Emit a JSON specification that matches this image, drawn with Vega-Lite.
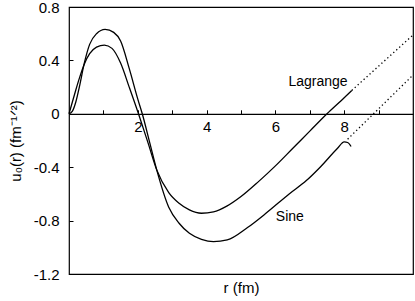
{
  "$schema": "https://vega.github.io/schema/vega-lite/v6.json",
  "width": 344,
  "height": 267,
  "autosize": "none",
  "padding": {"left": 69, "top": 7, "right": 2, "bottom": 27},
  "background": "white",
  "config": {
    "view": {"stroke": "black", "strokeWidth": 1.2},
    "font": "Liberation Sans",
    "axis": {"grid": false, "labelColor": "black", "titleColor": "black", "tickColor": "black", "domainColor": "black", "labelFont": "Liberation Sans", "titleFont": "Liberation Sans", "titleFontWeight": "normal"}
  },
  "datasets": {
    "curves": [
      {"curve": "Lagrange", "part": "solid", "r": 0, "u": 0},
      {"curve": "Lagrange", "part": "solid", "r": 0.1, "u": 0.09},
      {"curve": "Lagrange", "part": "solid", "r": 0.2, "u": 0.18},
      {"curve": "Lagrange", "part": "solid", "r": 0.3, "u": 0.265},
      {"curve": "Lagrange", "part": "solid", "r": 0.45, "u": 0.375},
      {"curve": "Lagrange", "part": "solid", "r": 0.6, "u": 0.45},
      {"curve": "Lagrange", "part": "solid", "r": 0.8, "u": 0.5},
      {"curve": "Lagrange", "part": "solid", "r": 1.03, "u": 0.515},
      {"curve": "Lagrange", "part": "solid", "r": 1.25, "u": 0.49},
      {"curve": "Lagrange", "part": "solid", "r": 1.5, "u": 0.38},
      {"curve": "Lagrange", "part": "solid", "r": 1.75, "u": 0.2},
      {"curve": "Lagrange", "part": "solid", "r": 2.02, "u": 0},
      {"curve": "Lagrange", "part": "solid", "r": 2.3, "u": -0.22},
      {"curve": "Lagrange", "part": "solid", "r": 2.55, "u": -0.42},
      {"curve": "Lagrange", "part": "solid", "r": 2.9, "u": -0.59},
      {"curve": "Lagrange", "part": "solid", "r": 3.2, "u": -0.67},
      {"curve": "Lagrange", "part": "solid", "r": 3.5, "u": -0.72},
      {"curve": "Lagrange", "part": "solid", "r": 3.85, "u": -0.745},
      {"curve": "Lagrange", "part": "solid", "r": 4.2, "u": -0.735},
      {"curve": "Lagrange", "part": "solid", "r": 4.6, "u": -0.69},
      {"curve": "Lagrange", "part": "solid", "r": 5.0, "u": -0.62},
      {"curve": "Lagrange", "part": "solid", "r": 5.5, "u": -0.51},
      {"curve": "Lagrange", "part": "solid", "r": 6.0, "u": -0.39},
      {"curve": "Lagrange", "part": "solid", "r": 6.5, "u": -0.26},
      {"curve": "Lagrange", "part": "solid", "r": 7.0, "u": -0.13},
      {"curve": "Lagrange", "part": "solid", "r": 7.5, "u": 0},
      {"curve": "Lagrange", "part": "solid", "r": 8.0, "u": 0.12},
      {"curve": "Lagrange", "part": "solid", "r": 8.22, "u": 0.175},
      {"curve": "Sine", "part": "solid", "r": 0, "u": 0},
      {"curve": "Sine", "part": "solid", "r": 0.1, "u": 0.02},
      {"curve": "Sine", "part": "solid", "r": 0.2, "u": 0.09},
      {"curve": "Sine", "part": "solid", "r": 0.3, "u": 0.2},
      {"curve": "Sine", "part": "solid", "r": 0.45, "u": 0.385},
      {"curve": "Sine", "part": "solid", "r": 0.6, "u": 0.52},
      {"curve": "Sine", "part": "solid", "r": 0.8, "u": 0.6},
      {"curve": "Sine", "part": "solid", "r": 1.05, "u": 0.633},
      {"curve": "Sine", "part": "solid", "r": 1.3, "u": 0.61},
      {"curve": "Sine", "part": "solid", "r": 1.5, "u": 0.545},
      {"curve": "Sine", "part": "solid", "r": 1.75, "u": 0.34},
      {"curve": "Sine", "part": "solid", "r": 2.0, "u": 0.11},
      {"curve": "Sine", "part": "solid", "r": 2.13, "u": 0},
      {"curve": "Sine", "part": "solid", "r": 2.35, "u": -0.22},
      {"curve": "Sine", "part": "solid", "r": 2.55, "u": -0.42},
      {"curve": "Sine", "part": "solid", "r": 2.9, "u": -0.7},
      {"curve": "Sine", "part": "solid", "r": 3.2, "u": -0.82},
      {"curve": "Sine", "part": "solid", "r": 3.5, "u": -0.895},
      {"curve": "Sine", "part": "solid", "r": 3.85, "u": -0.94},
      {"curve": "Sine", "part": "solid", "r": 4.2, "u": -0.958},
      {"curve": "Sine", "part": "solid", "r": 4.6, "u": -0.945},
      {"curve": "Sine", "part": "solid", "r": 5.2, "u": -0.85},
      {"curve": "Sine", "part": "solid", "r": 5.75, "u": -0.74},
      {"curve": "Sine", "part": "solid", "r": 6.4, "u": -0.6},
      {"curve": "Sine", "part": "solid", "r": 6.9, "u": -0.5},
      {"curve": "Sine", "part": "solid", "r": 7.3, "u": -0.4},
      {"curve": "Sine", "part": "solid", "r": 7.8, "u": -0.26},
      {"curve": "Sine", "part": "solid", "r": 8.0, "u": -0.21},
      {"curve": "Sine", "part": "solid", "r": 8.1, "u": -0.215},
      {"curve": "Sine", "part": "solid", "r": 8.2, "u": -0.245},
      {"curve": "Lagrange", "part": "tail", "r": 8.22, "u": 0.175},
      {"curve": "Lagrange", "part": "tail", "r": 10, "u": 0.59},
      {"curve": "Sine", "part": "tail", "r": 8.1, "u": -0.19},
      {"curve": "Sine", "part": "tail", "r": 10, "u": 0.29}
    ],
    "labels": [
      {"text": "Lagrange", "r": 7.24, "u": 0.24},
      {"text": "Sine", "r": 6.42, "u": -0.77}
    ]
  },
  "layer": [
    {
      "data": {"name": "curves"},
      "transform": [{"filter": "datum.part == 'solid'"}],
      "mark": {"type": "line", "color": "black", "strokeWidth": 1.3, "interpolate": "monotone"},
      "encoding": {
        "x": {"field": "r", "type": "quantitative", "scale": {"domain": [0, 10], "nice": false, "zero": false},
          "axis": {"orient": "bottom", "offset": -160.2, "values": [1, 2, 3, 4, 5, 6, 7, 8, 9], "labelExpr": "datum.value % 2 == 0 ? datum.label : ''", "tickSize": -4, "labelPadding": 10, "labelFontSize": 15, "domain": true, "domainWidth": 1.3, "title": "r (fm)", "titleFontSize": 15, "titleY": 174, "titleBaseline": "middle", "labelFlush": false}},
        "y": {"field": "u", "type": "quantitative", "scale": {"domain": [-1.2, 0.8], "nice": false, "zero": false},
          "axis": {"orient": "left", "values": [-1.2, -1.0, -0.8, -0.6, -0.4, -0.2, 0, 0.2, 0.4, 0.6, 0.8], "labelExpr": "abs(round(datum.value * 10)) % 4 == 0 ? (datum.value == 0 ? '0' : (datum.value < 0 ? '-' : '') + format(abs(datum.value), '.1f')) : ''", "tickSize": -4, "labelPadding": 14, "labelFontSize": 15, "domain": false, "labelFlush": false, "title": "u₀(r) (fm⁻¹ᐟ²)", "titleFontSize": 15, "titleX": -54, "titleY": 133.5, "titleBaseline": "middle", "titleAngle": -90}},
        "detail": {"field": "curve"}
      }
    },
    {
      "data": {"name": "curves"},
      "transform": [{"filter": "datum.part == 'tail'"}],
      "mark": {"type": "line", "color": "black", "strokeWidth": 1.3, "strokeDash": [1.3, 2.7]},
      "encoding": {
        "x": {"field": "r", "type": "quantitative"},
        "y": {"field": "u", "type": "quantitative"},
        "detail": {"field": "curve"}
      }
    },
    {
      "data": {"name": "labels"},
      "mark": {"type": "text", "fontSize": 14, "color": "black", "font": "Liberation Sans", "align": "center", "baseline": "middle"},
      "encoding": {
        "x": {"field": "r", "type": "quantitative"},
        "y": {"field": "u", "type": "quantitative"},
        "text": {"field": "text"}
      }
    }
  ]
}
